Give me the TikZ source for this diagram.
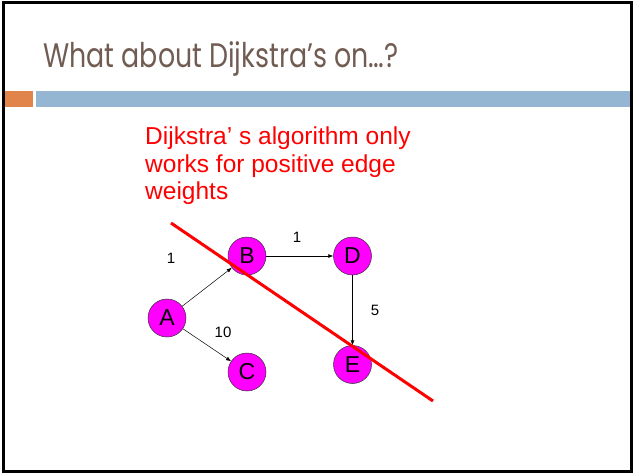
\documentclass[tikz,border=0pt]{standalone}
\usepackage{fontspec}
\setmainfont{Liberation Sans}
\newfontfamily\slidetitlefont{Poppins}
\usepackage{tikz}
\usetikzlibrary{positioning, arrows.meta}
\definecolor{titleBrown}{RGB}{112,92,82}
\definecolor{barOrange}{RGB}{224,132,76}
\definecolor{barBlue}{RGB}{148,182,210}
\definecolor{nodeMagenta}{RGB}{255,0,255}
\tikzset{
	vertex/.style={circle, draw=black!80, line width=0.5pt, fill=nodeMagenta,
		minimum size=38pt, inner sep=0pt, font=\fontsize{23}{23}\selectfont},
	edgearr/.style={-{Latex[length=5pt, width=4pt]}, line width=0.5pt, draw=black},
	weightlabel/.style={font=\fontsize{15}{15}\selectfont, inner sep=0pt},
	cutline/.style={draw=red, line width=3pt}
}

\begin{document}
\begin{tikzpicture}[x=1pt, y=-1pt]
	\useasboundingbox (0,0) rectangle (634,474);
	\draw[line width=3pt] (3,2.5) rectangle (631.5,471.5);
	% title and header bar
	\node[anchor=base west, inner sep=0pt, text=titleBrown] (title) at (43,67)
		{\scalebox{0.79}[1]{\slidetitlefont\fontsize{34}{34}\selectfont What about Dijkstra’s on…?}};
	\fill[barOrange] (5,91) rectangle (33,107);
	\fill[barBlue] (35.5,91) rectangle (630,107);
	% note
	\node[anchor=north west, inner sep=0pt, align=left, text=red,
		font=\fontsize{24.5}{27.5}\selectfont] (note) at (145,127)
		{Dijkstra’ s algorithm only\\works for positive edge\\weights};
	% graph
	\node[vertex] (A) at (167,318) {A};
	\node[vertex] (B) at (247,256) {B};
	\node[vertex, right=67pt of B] (D) {D};
	\node[vertex, below=70pt of D] (E) {E};
	\node[vertex] (C) at (247,372) {C};
	\foreach \a/\b in {A/B, B/D, D/E, A/C}
		\draw[edgearr] (\a) -- (\b);
	\node[weightlabel] (wAB) at (171,258) {1};
	\node[weightlabel] (wBD) at (297,237) {1};
	\node[weightlabel] (wDE) at (375,310) {5};
	\node[weightlabel] (wAC) at (223,332) {10};
	% the cut
	\coordinate (cutStart) at (171,223);
	\coordinate (cutEnd) at (433,401);
	\draw[cutline] (cutStart) -- (cutEnd);
\end{tikzpicture}
\end{document}
